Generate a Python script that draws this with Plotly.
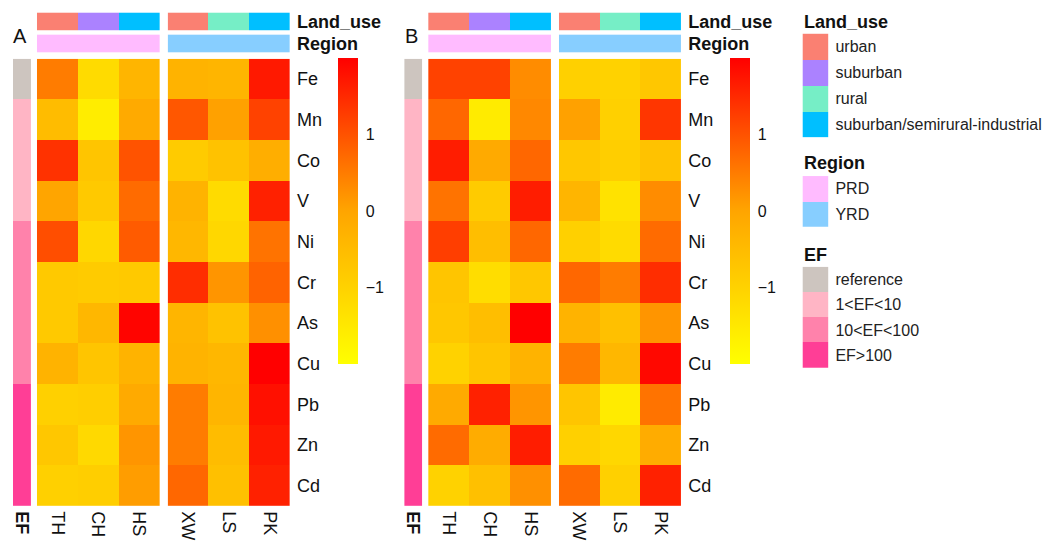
import plotly.graph_objects as go

W, H = 1047, 545
FONT = "Liberation Sans, Arial, Helvetica, sans-serif"

# ---------------- data ----------------
rows = ["Fe", "Mn", "Co", "V", "Ni", "Cr", "As", "Cu", "Pb", "Zn", "Cd"]
cols_g1 = ["TH", "CH", "HS"]
cols_g2 = ["XW", "LS", "PK"]

vals_A = [
    [0.50, -1.20, -0.35, -0.30, -0.35, 1.70],
    [-0.50, -1.60, -0.10, 0.95, 0.05, 1.20],
    [1.40, -0.70, 1.00, -0.85, -0.65, -0.20],
    [0.00, -0.80, 0.70, -0.30, -1.20, 1.60],
    [1.05, -1.10, 0.90, -0.40, -1.10, 0.60],
    [-0.80, -0.85, -0.80, 1.45, 0.20, 0.80],
    [-0.80, -0.40, 1.95, -0.35, -0.65, 0.25],
    [-0.30, -0.70, -0.30, -0.30, -0.40, 2.00],
    [-0.95, -0.90, -0.10, 0.50, -0.35, 1.80],
    [-0.75, -1.15, 0.20, 0.50, -0.50, 1.70],
    [-0.95, -0.90, 0.10, 0.75, -0.60, 1.60],
]
vals_B = [
    [1.20, 1.20, 0.30, -0.95, -1.00, -0.75],
    [0.75, -1.55, 0.35, 0.05, -0.95, 1.35],
    [1.65, -0.10, 0.75, -0.75, -0.90, -0.65],
    [0.60, -0.85, 1.65, -0.35, -1.35, 0.30],
    [1.25, -0.55, 0.75, -0.95, -1.20, 0.70],
    [-0.70, -1.25, -0.75, 0.75, 0.50, 1.45],
    [-0.75, -0.55, 2.00, -0.30, -0.60, 0.20],
    [-1.00, -0.70, -0.30, 0.50, -0.40, 1.90],
    [-0.10, 1.60, 0.20, -0.70, -1.55, 0.60],
    [0.70, -0.15, 1.65, -0.95, -1.10, -0.15],
    [-1.00, -0.60, 0.25, 0.70, -0.95, 1.60],
]

land_use_levels = ["urban", "suburban", "rural", "suburban/semirural-industrial"]
land_use_colors = ["#FA8072", "#AB82FF", "#76EEC6", "#00BFFF"]
land_use_g1 = ["urban", "suburban", "suburban/semirural-industrial"]
land_use_g2 = ["urban", "rural", "suburban/semirural-industrial"]

region_levels = ["PRD", "YRD"]
region_colors = ["#FFBBFF", "#87CEFF"]
region_g1 = ["PRD", "PRD", "PRD"]
region_g2 = ["YRD", "YRD", "YRD"]

ef_levels = ["reference", "1<EF<10", "10<EF<100", "EF>100"]
ef_colors = ["#CDC5BF", "#FFB5C5", "#FF82AB", "#FF3E96"]
ef_rows = ["reference", "1<EF<10", "1<EF<10", "1<EF<10",
           "10<EF<100", "10<EF<100", "10<EF<100", "10<EF<100",
           "EF>100", "EF>100", "EF>100"]

cbar_tickvals = [-1, 0, 1]
cbar_ticktext = ["\u22121", "0", "1"]
CMIN, CMAX = -2.0, 2.0
heat_colors = ["#FFFF00", "#FFA500", "#FF0000"]

# ---------------- helpers ----------------
def disc_scale(colors):
    n = len(colors)
    cs = []
    for i, c in enumerate(colors):
        cs.append([i / n, c])
        cs.append([(i + 1) / n, c])
    return cs

def codes(values, levels):
    return [levels.index(v) for v in values]

fig = go.Figure()
layout = {}
counter = [0]

def add_axes(xpx, ypx, xkw=None, ykw=None):
    counter[0] += 1
    i = counter[0]
    sx = "" if i == 1 else str(i)
    base = dict(showgrid=False, zeroline=False, showline=False, ticks="",
                showticklabels=False, fixedrange=True)
    xa = dict(base, domain=[xpx[0] / W, xpx[1] / W], anchor="y" + sx)
    ya = dict(base, domain=[1 - ypx[1] / H, 1 - ypx[0] / H], anchor="x" + sx)
    if xkw:
        xa.update(xkw)
    if ykw:
        ya.update(ykw)
    layout["xaxis" + sx] = xa
    layout["yaxis" + sx] = ya
    return "x" + sx, "y" + sx

tickfont18 = dict(size=18, color="#111111", family=FONT)

Y_LU = (11.5, 29.5)
Y_RG = (33.5, 52.0)
Y_HM = (58.0, 507.0)

mid = (0 - CMIN) / (CMAX - CMIN)
heat_scale = [[0, heat_colors[0]], [mid, heat_colors[1]], [1, heat_colors[2]]]

annotations = []

def panel(vals, off, cax, letter):
    g1 = [r[:3] for r in vals]
    g2 = [r[3:] for r in vals]
    # EF bar
    xa, ya = add_axes((12 + off, 30 + off), Y_HM,
                      xkw=dict(showticklabels=True, side="bottom", tickangle=90,
                               tickfont=tickfont18, ticklabelstandoff=4,
                               tickvals=["EF"], ticktext=["<b>EF</b>"]),
                      ykw=dict(autorange="reversed"))
    fig.add_trace(go.Heatmap(z=[[c] for c in codes(ef_rows, ef_levels)], x=["EF"], y=rows,
                             colorscale=disc_scale(ef_colors), zmin=-0.5,
                             zmax=len(ef_levels) - 0.5, showscale=False,
                             xaxis=xa, yaxis=ya, hoverinfo="skip"))
    # heatmap group 1
    xa, ya = add_axes((36 + off, 159 + off), Y_HM,
                      xkw=dict(showticklabels=True, side="bottom", tickangle=90,
                               tickfont=tickfont18, ticklabelstandoff=4),
                      ykw=dict(autorange="reversed"))
    fig.add_trace(go.Heatmap(z=g1, x=cols_g1, y=rows, coloraxis=cax,
                             xaxis=xa, yaxis=ya))
    # heatmap group 2
    xa, ya = add_axes((167 + off, 289.5 + off), Y_HM,
                      xkw=dict(showticklabels=True, side="bottom", tickangle=90,
                               tickfont=tickfont18, ticklabelstandoff=4),
                      ykw=dict(autorange="reversed", side="right", showticklabels=True,
                               tickfont=tickfont18, ticklabelstandoff=6))
    fig.add_trace(go.Heatmap(z=g2, x=cols_g2, y=rows, coloraxis=cax,
                             xaxis=xa, yaxis=ya))
    # top annotations
    for (x0, x1), lu, rg, right in [((36, 159), land_use_g1, region_g1, False),
                                     ((167, 289.5), land_use_g2, region_g2, True)]:
        ykw_lu = dict(side="right", showticklabels=right, tickfont=tickfont18,
                      ticklabelstandoff=6, tickvals=["Land_use"], ticktext=["<b>Land_use</b>"])
        xa, ya = add_axes((x0 + off, x1 + off), Y_LU, ykw=ykw_lu)
        fig.add_trace(go.Heatmap(z=[codes(lu, land_use_levels)], x=[0, 1, 2],
                                 y=["Land_use"], colorscale=disc_scale(land_use_colors),
                                 zmin=-0.5, zmax=len(land_use_levels) - 0.5,
                                 showscale=False, xaxis=xa, yaxis=ya, hoverinfo="skip"))
        ykw_rg = dict(side="right", showticklabels=right, tickfont=tickfont18,
                      ticklabelstandoff=6, tickvals=["Region"], ticktext=["<b>Region</b>"])
        xa, ya = add_axes((x0 + off, x1 + off), Y_RG, ykw=ykw_rg)
        fig.add_trace(go.Heatmap(z=[codes(rg, region_levels)], x=[0, 1, 2],
                                 y=["Region"], colorscale=disc_scale(region_colors),
                                 zmin=-0.5, zmax=len(region_levels) - 0.5,
                                 showscale=False, xaxis=xa, yaxis=ya, hoverinfo="skip"))
    # colour axis + bar
    layout[cax] = dict(
        cmin=CMIN, cmax=CMAX, colorscale=heat_scale,
        colorbar=dict(x=(338 + off) / W, xanchor="left", xpad=0, ypad=0,
                      y=1 - 211 / H, yanchor="middle", len=306, lenmode="pixels",
                      thickness=20, thicknessmode="pixels", outlinewidth=0,
                      tickvals=cbar_tickvals, ticktext=cbar_ticktext,
                      ticks="outside", ticklen=5, tickcolor="rgba(0,0,0,0)",
                      tickfont=dict(size=16, color="#111111", family=FONT)))
    annotations.append(dict(text=letter, x=(19 + off) / W, y=1 - 35.5 / H,
                            xref="paper", yref="paper", showarrow=False,
                            xanchor="center", yanchor="middle",
                            font=dict(size=20, color="#111111", family=FONT)))

panel(vals_A, 0, "coloraxis", "A")
panel(vals_B, 392, "coloraxis2", "B")

# ---------------- legends ----------------
legend_font = dict(size=16, color="#222222", family=FONT)
for title, levels, colors, (y0, y1), ty in [
        ("Land_use", land_use_levels, land_use_colors, (32.7, 136.7), 21),
        ("Region", region_levels, region_colors, (175.7, 226.7), 163),
        ("EF", ef_levels, ef_colors, (266.7, 368.3), 255)]:
    xa, ya = add_axes((803, 829), (y0, y1),
                      ykw=dict(autorange="reversed", side="right", showticklabels=True,
                               tickfont=legend_font, ticklabelstandoff=6))
    fig.add_trace(go.Heatmap(z=[[i] for i in range(len(levels))], x=[0], y=levels,
                             colorscale=disc_scale(colors), zmin=-0.5,
                             zmax=len(levels) - 0.5, showscale=False,
                             xaxis=xa, yaxis=ya, hoverinfo="skip"))
    annotations.append(dict(text="<b>" + title + "</b>", x=803 / W, y=1 - ty / H,
                            xref="paper", yref="paper", showarrow=False,
                            xanchor="left", yanchor="middle",
                            font=dict(size=18, color="#111111", family=FONT)))

layout.update(dict(width=W, height=H, margin=dict(l=0, r=0, t=0, b=0),
                   paper_bgcolor="white", plot_bgcolor="white",
                   font=dict(family=FONT), showlegend=False,
                   annotations=annotations))
fig.update_layout(**layout)
fig.write_html("out.html", config={"displayModeBar": False},
               post_script="document.body.style.margin='0px';document.body.style.overflow='hidden';")
